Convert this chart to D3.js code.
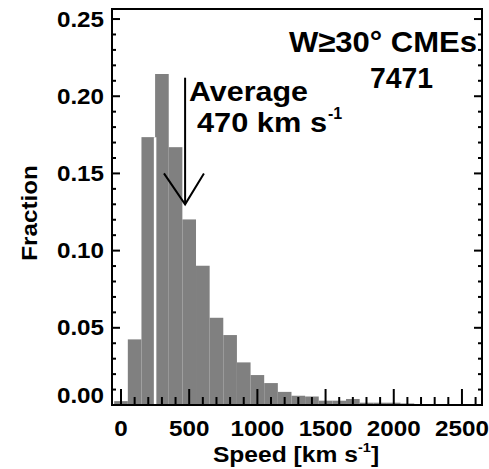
<!DOCTYPE html>
<html><head><meta charset="utf-8">
<script src="https://cdn.jsdelivr.net/npm/d3@7"></script>
<style>html,body{margin:0;padding:0;background:#fff;}svg{display:block;}</style>
</head><body>
<script>
// ---- data ----
const binCenters = [0,100,200,300,400,500,600,700,800,900,1000,1100,1200,1300,1400,1500,1600,1700,1800,1900,2000,2100,2200,2300,2400,2500,2600];
const fractions  = [0.0025,0.0425,0.1735,0.2144,0.167,0.1202,0.0902,0.0565,0.0453,0.0276,0.0194,0.0142,0.0085,0.006,0.0055,0.0028,0.0028,0.0039,0.0015,0.0015,0.0015,0.001,0.0006,0.0005,0.0004,0.0003,0.0002];
const binWidth = 100;
const xTickValues = [0,500,1000,1500,2000,2500];
const yTickValues = [0.00,0.05,0.10,0.15,0.20,0.25];
const avgSpeed = 470;
const medianMark = 250;
const eventCount = 7471;

const W = 489, H = 469;
const svg = d3.select("body").append("svg").attr("width", W).attr("height", H);
const x = d3.scaleLinear().domain([-66, 2647]).range([112, 482]);
const y = d3.scaleLinear().domain([0, 0.2565]).range([405, 9]);
const FONT = "'Liberation Sans', Arial, Helvetica, sans-serif";

// bars
svg.append("g").selectAll("rect").data(binCenters).join("rect")
  .attr("x", d => x(d - binWidth/2))
  .attr("width", d => x(d + binWidth/2) - x(d - binWidth/2))
  .attr("y", (d,i) => y(fractions[i]))
  .attr("height", (d,i) => y(0) - y(fractions[i]))
  .attr("fill", "#808080");

// white separator line
const mi = binCenters.indexOf(medianMark - binWidth/2);
svg.append("line")
  .attr("x1", x(medianMark)).attr("x2", x(medianMark))
  .attr("y1", y(0)).attr("y2", y(Math.min(fractions[mi], fractions[mi+1])))
  .attr("stroke", "#fff").attr("stroke-width", 2.5);

// axes (IDL-style inward ticks)
const yMinor = d3.range(0, 0.2501, 0.01);
const xMinor = d3.range(0, 2601, 100);
const axisG = svg.append("g").attr("stroke", "#000").attr("stroke-width", 2);
yMinor.forEach(v => {
  const major = yTickValues.some(t => Math.abs(t - v) < 1e-9);
  const len = major ? 8 : 4;
  axisG.append("line").attr("x1", x.range()[0]).attr("x2", x.range()[0] + len).attr("y1", y(v)).attr("y2", y(v));
  axisG.append("line").attr("x1", x.range()[1]).attr("x2", x.range()[1] - len).attr("y1", y(v)).attr("y2", y(v));
});
xMinor.forEach(v => {
  const major = xTickValues.includes(v);
  const len = major ? 16 : 8;
  axisG.append("line").attr("x1", x(v)).attr("x2", x(v)).attr("y1", y.range()[0]).attr("y2", y.range()[0] - len);
});
svg.append("rect").attr("x", x.range()[0]).attr("y", y.range()[1])
  .attr("width", x.range()[1] - x.range()[0]).attr("height", y.range()[0] - y.range()[1])
  .attr("fill", "none").attr("stroke", "#000").attr("stroke-width", 2);

// tick labels
const lab = svg.append("g").attr("font-family", FONT).attr("font-weight", "bold").attr("font-size", 22).attr("fill", "#000");
yTickValues.forEach(v => {
  const cy = Math.min(y(v), y(0) - 10);
  lab.append("text").attr("text-anchor", "end")
    .attr("transform", `translate(104,${cy + 7.5}) scale(1.1,1)`)
    .text(d3.format(".2f")(v));
});
xTickValues.forEach(v => {
  lab.append("text").attr("text-anchor", "middle")
    .attr("transform", `translate(${x(v)},435.5) scale(1.1,1)`)
    .text(v);
});

// axis titles
const xt = svg.append("text").attr("font-family", FONT).attr("font-weight", "bold").attr("font-size", 22)
  .attr("text-anchor", "middle").attr("transform", "translate(296,461.5) scale(1.12,1)");
xt.append("tspan").text("Speed [km s");
xt.append("tspan").attr("font-size", 13).attr("dy", -10).text("-1");
xt.append("tspan").attr("dy", 10).text("]");

svg.append("text").attr("font-family", FONT).attr("font-weight", "bold").attr("font-size", 22)
  .attr("text-anchor", "middle").attr("transform", "translate(37,213) rotate(-90) scale(1.1,1)")
  .text("Fraction");

// annotation
svg.append("text").attr("font-family", FONT).attr("font-weight", "bold").attr("font-size", 30)
  .attr("text-anchor", "end").attr("x", 477).attr("y", 52)
  .attr("textLength", 188).attr("lengthAdjust", "spacingAndGlyphs")
  .text("W\u226530\u00b0 CMEs");
svg.append("text").attr("font-family", FONT).attr("font-weight", "bold").attr("font-size", 29)
  .attr("x", 370).attr("y", 88).attr("textLength", 63).attr("lengthAdjust", "spacingAndGlyphs")
  .text(eventCount);
svg.append("text").attr("font-family", FONT).attr("font-weight", "bold").attr("font-size", 27)
  .attr("x", 189).attr("y", 100.5).attr("textLength", 119).attr("lengthAdjust", "spacingAndGlyphs")
  .text("Average");
svg.append("text").attr("font-family", FONT).attr("font-weight", "bold").attr("font-size", 28)
  .attr("x", 197).attr("y", 131.5).attr("textLength", 130).attr("lengthAdjust", "spacingAndGlyphs")
  .text(avgSpeed + " km s");
svg.append("text").attr("font-family", FONT).attr("font-weight", "bold").attr("font-size", 16)
  .attr("x", 328).attr("y", 119)
  .text("-1");

// arrow
const ar = svg.append("g").attr("stroke", "#000").attr("stroke-width", 2).attr("fill", "none");
ar.append("line").attr("x1", x(avgSpeed)).attr("x2", x(avgSpeed)).attr("y1", y(0.212)).attr("y2", y(0.130));
ar.append("polyline").attr("points", [[x(315), y(0.150)], [x(avgSpeed), y(0.130)], [x(608), y(0.150)]].map(p => p.join(",")).join(" "));
</script>
</body></html>
